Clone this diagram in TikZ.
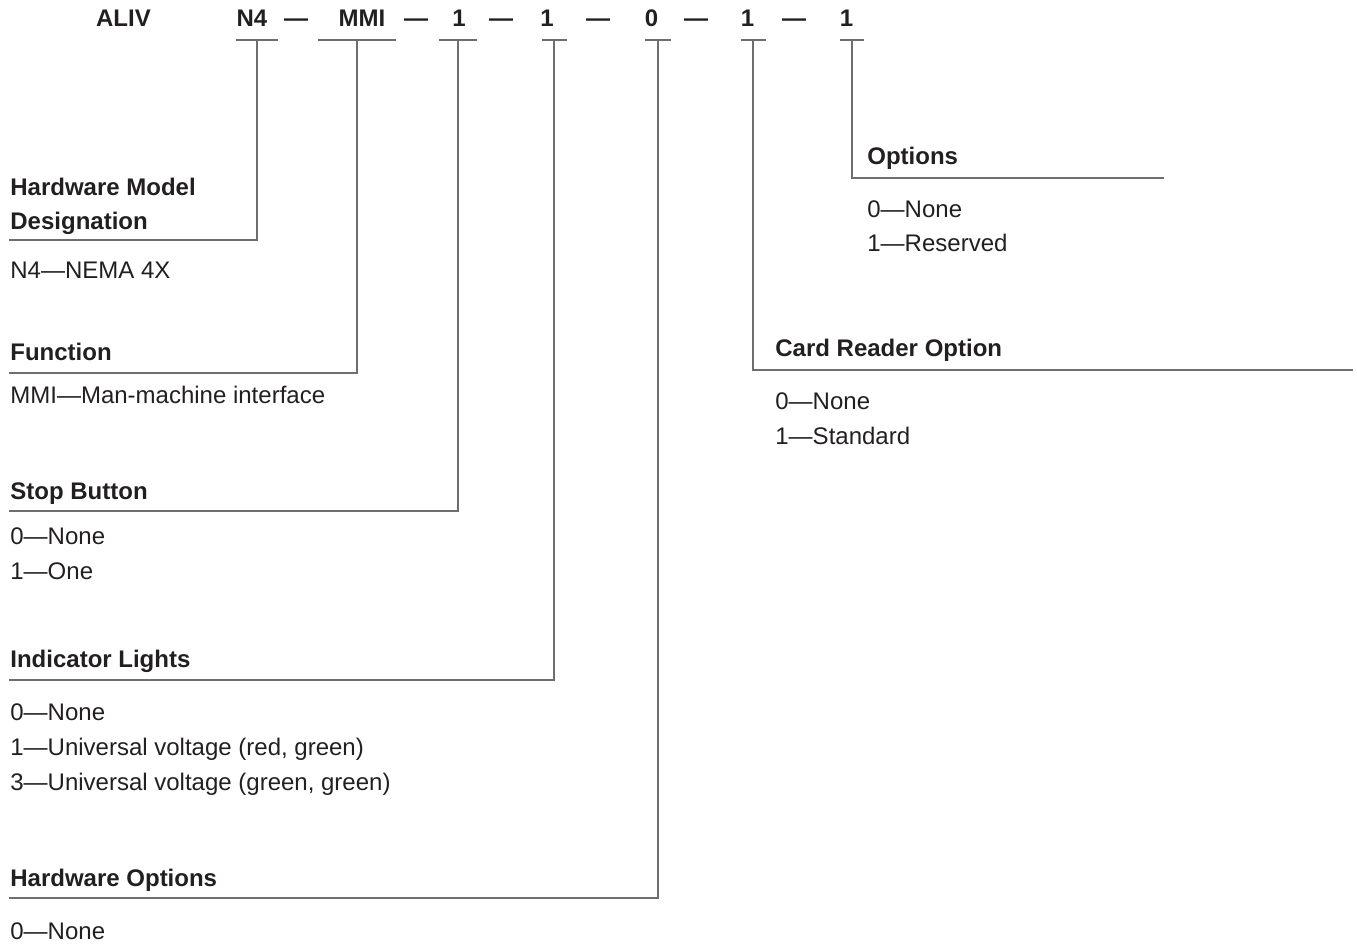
\documentclass[tikz,border=0pt]{standalone}
\usepackage{fontspec}
\setmainfont{Liberation Sans}
\definecolor{ink}{HTML}{231F20}
\definecolor{rulegray}{HTML}{6E6E6E}
\tikzset{
    txt/.style={text=ink, inner sep=0pt, font=\fontsize{12}{14}\selectfont},
    code/.style={txt, font=\fontsize{12}{14}\selectfont\bfseries, anchor=base},
    head/.style={txt, font=\fontsize{12}{14}\selectfont\bfseries, anchor=base west},
    item/.style={txt, anchor=base west},
    lead/.style={draw=rulegray, line width=0.8pt},
}
\begin{document}
\begin{tikzpicture}[x=0.5pt, y=-0.5pt]
    \useasboundingbox (0,0) rectangle (1357,945);
    % model code row
    \foreach \x/\n/\l in {123.5/aliv/ALIV,252/cN4/N4,296/d1/---,362/cMMI/MMI,416/d2/---,459/cStop/1,501/d3/---,547/cInd/1,598/d4/---,651.5/cHwo/0,696/d5/---,747.5/cCrd/1,794/d6/---,846.5/cOpt/1}{
        \node[code] (\n) at (\x,27) {\l};
    }
    % leader lines: T bar under the code, then down and across to the heading
    \foreach \n/\x/\w/\y/\e in {hwm/257/21/240/9,fun/357/39/373/9,stp/458/19/511/9,ind/554/12.5/680/9,hwo/658/13/898/9,crd/753/12.5/370/1353,opt/852/12/178/1164}{
        \coordinate (\n-top) at (\x,40);
        \coordinate (\n-end) at (\e,\y);
        \draw[lead] (\x-\w,40) -- (\x+\w,40);
        \draw[lead] (\n-top) |- (\n-end);
    }
    % headings
    \foreach \x/\y/\n/\l in {10/195.5/hHwm/Hardware Model,10/229.5/hHwm2/Designation,10/360.5/hFun/Function,10/499.5/hStp/Stop Button,10/667.5/hInd/Indicator Lights,10/886.5/hHwo/Hardware Options,867/164.5/hOpt/Options,775/356.5/hCrd/Card Reader Option}{
        \node[head] (\n) at (\x,\y) {\l};
    }
    % choices
    \foreach \x/\y/\n/\l in {10/278.5/iHwm/N4---NEMA 4X,10/403.5/iFun/MMI---Man-machine interface,10/544.5/iStp0/0---None,10/579.5/iStp1/1---One,10/720.5/iInd0/0---None,10/755.5/iInd1/{1---Universal voltage (red, green)},10/790.5/iInd3/{3---Universal voltage (green, green)},10/939.5/iHwo0/0---None,867/217.5/iOpt0/0---None,867/251.5/iOpt1/1---Reserved,775/409.5/iCrd0/0---None,775/444.5/iCrd1/1---Standard}{
        \node[item] (\n) at (\x,\y) {\l};
    }
\end{tikzpicture}
\end{document}
